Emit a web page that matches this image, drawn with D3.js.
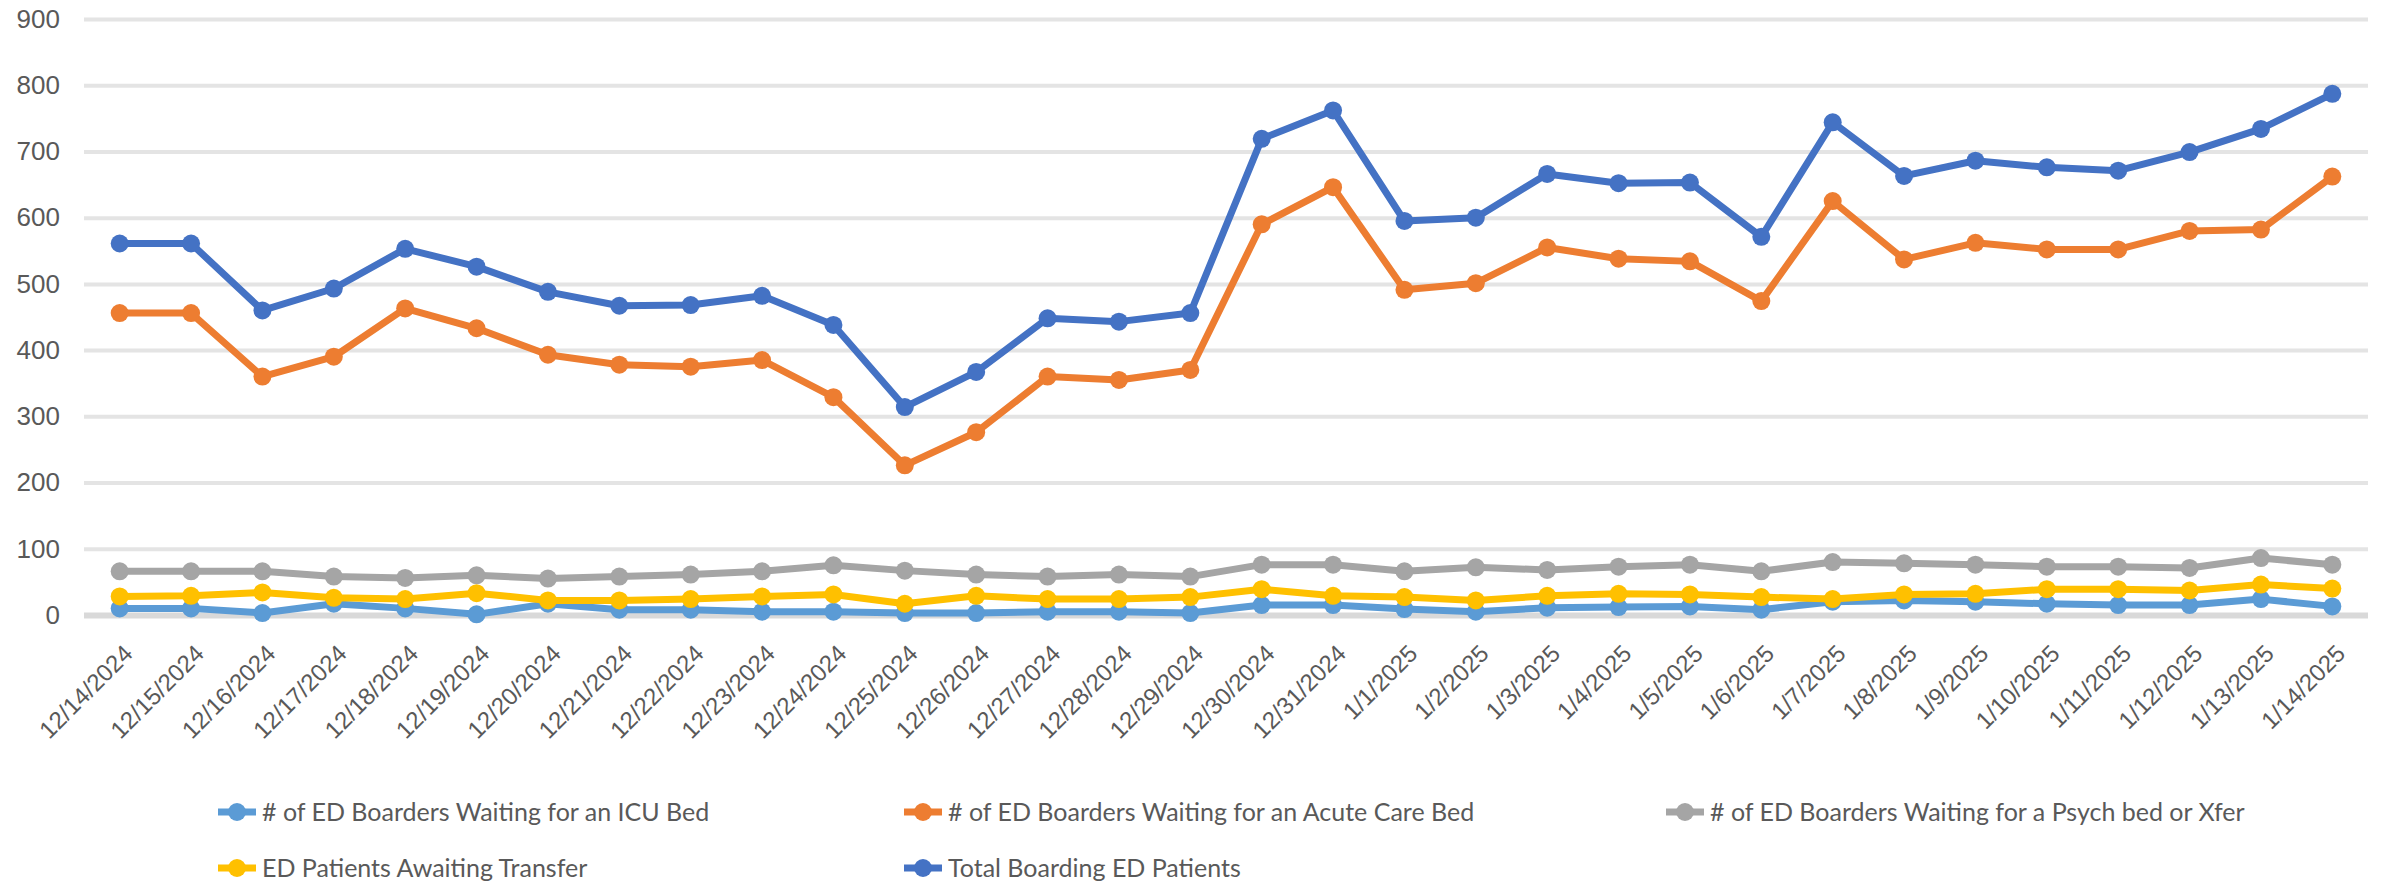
<!DOCTYPE html>
<html>
<head>
<meta charset="utf-8">
<script src="https://cdn.jsdelivr.net/npm/d3@7"></script>
<style>
  html, body { margin: 0; padding: 0; background: #fff; }
  svg { display: block; font-family: Lato, "Liberation Sans", sans-serif; }
  .y-axis text, .x-axis text { fill: #595959; }
  .legend text { fill: #595959; }
</style>
</head>
<body>
<svg id="chart" width="2382" height="884"></svg>
<script>
const dates = [
  "12/14/2024", "12/15/2024", "12/16/2024", "12/17/2024", "12/18/2024", "12/19/2024",
  "12/20/2024", "12/21/2024", "12/22/2024", "12/23/2024", "12/24/2024", "12/25/2024",
  "12/26/2024", "12/27/2024", "12/28/2024", "12/29/2024", "12/30/2024", "12/31/2024",
  "1/1/2025", "1/2/2025", "1/3/2025", "1/4/2025", "1/5/2025", "1/6/2025", "1/7/2025",
  "1/8/2025", "1/9/2025", "1/10/2025", "1/11/2025", "1/12/2025", "1/13/2025", "1/14/2025"
];

const icuBed = [10, 10, 3, 17, 10, 1, 17, 8, 8, 5, 5, 3, 3, 5, 5, 3, 15, 15, 9, 5, 11,
  12, 13, 8, 20, 22, 20, 17, 15, 15, 24, 13];
const acuteBed = [456, 456, 360, 390, 463, 433, 393, 378, 375, 385, 329, 226, 276, 360, 355, 370,
  590, 646, 491, 501, 555, 538, 534, 474, 625, 537, 562, 552, 552, 580, 582, 662];
const psychBed = [66, 66, 66, 58, 56, 60, 55, 58, 61, 66, 75, 67, 61, 58, 61, 58, 76, 76, 66, 72,
  68, 73, 76, 66, 80, 78, 76, 73, 73, 71, 86, 76];
const awaitingTransfer = [28, 29, 34, 26, 24, 33, 22, 22, 24, 28, 31, 17, 29, 24, 24, 27, 39, 29,
  27, 22, 29, 32, 31, 27, 24, 31, 32, 39, 39, 37, 46, 40];
const totalBoarding = [561, 561, 460, 493, 553, 526, 488, 467, 468, 482, 438, 314, 367, 448, 443,
  456, 719, 762, 595, 600, 666, 652, 653, 571, 744, 663, 686, 676, 671, 699, 734, 787];

const yTicks = [0, 100, 200, 300, 400, 500, 600, 700, 800, 900];

const seriesNames = [
  "# of ED Boarders Waiting for an ICU Bed",
  "# of ED Boarders Waiting for an Acute Care Bed",
  "# of ED Boarders Waiting for a Psych bed or Xfer",
  "ED Patients Awaiting Transfer",
  "Total Boarding ED Patients"
];
const seriesColors = ["#5b9bd5", "#ed7d31", "#a5a5a5", "#ffc000", "#4472c4"];
const seriesValues = [icuBed, acuteBed, psychBed, awaitingTransfer, totalBoarding];

const series = seriesNames.map((name, i) => ({
  name,
  color: seriesColors[i],
  values: seriesValues[i].map((v, j) => ({ date: dates[j], value: v }))
}));

// legend slots: [x of text, row]
const legendSlots = [[262, 0], [948, 0], [1710, 0], [262, 1], [948, 1]];

const margin = { left: 84, right: 14, top: 19, bottom: 269 };
const width = 2382;
const height = 884;

const svg = d3.select("#chart");

const x = d3.scalePoint()
  .domain(dates)
  .range([margin.left, width - margin.right])
  .padding(0.5);

const y = d3.scaleLinear()
  .domain([0, 900])
  .range([height - margin.bottom, margin.top]);

// gridlines + y labels
const yAxis = svg.append("g")
  .attr("class", "y-axis")
  .attr("transform", `translate(${margin.left},0)`)
  .call(d3.axisLeft(y)
    .tickValues(yTicks)
    .tickSize(-(width - margin.left - margin.right))
    .tickPadding(24));

yAxis.select(".domain").remove();
yAxis.selectAll(".tick line")
  .attr("stroke", (d) => d === 0 ? "#d9d9d9" : "#e4e4e4")
  .attr("stroke-width", (d) => d === 0 ? 6 : 4);
yAxis.selectAll(".tick text")
  .attr("font-size", 26);

// x labels
const xAxis = svg.append("g")
  .attr("class", "x-axis")
  .attr("transform", `translate(0,${y(0)})`)
  .call(d3.axisBottom(x).tickSize(0).tickPadding(0));

xAxis.select(".domain").remove();
xAxis.selectAll(".tick text")
  .attr("font-size", 24)
  .attr("text-anchor", "end")
  .attr("dy", 0)
  .attr("transform", "translate(14,40) rotate(-45)");

// lines and markers
const line = d3.line()
  .x((d) => x(d.date))
  .y((d) => y(d.value));

const seriesGroups = svg.append("g")
  .selectAll("g")
  .data(series)
  .join("g");

seriesGroups.append("path")
  .attr("d", (s) => line(s.values))
  .attr("fill", "none")
  .attr("stroke", (s) => s.color)
  .attr("stroke-width", 7)
  .attr("stroke-linejoin", "round");

seriesGroups.selectAll("circle")
  .data((s) => s.values.map((v) => ({ ...v, color: s.color })))
  .join("circle")
  .attr("cx", (d) => x(d.date))
  .attr("cy", (d) => y(d.value))
  .attr("r", 9)
  .attr("fill", (d) => d.color);

// legend
const legend = svg.append("g").attr("class", "legend");
const legendRowY = [812, 868];

const items = legend.selectAll("g")
  .data(series)
  .join("g")
  .attr("transform", (s, i) => `translate(${legendSlots[i][0]},${legendRowY[legendSlots[i][1]]})`);

items.append("line")
  .attr("x1", -44)
  .attr("x2", -6)
  .attr("stroke", (s) => s.color)
  .attr("stroke-width", 7);

items.append("circle")
  .attr("cx", -25)
  .attr("r", 9)
  .attr("fill", (s) => s.color);

items.append("text")
  .attr("x", 0)
  .attr("dy", "0.35em")
  .attr("font-size", 25)
  .text((s) => s.name);
</script>
</body>
</html>
